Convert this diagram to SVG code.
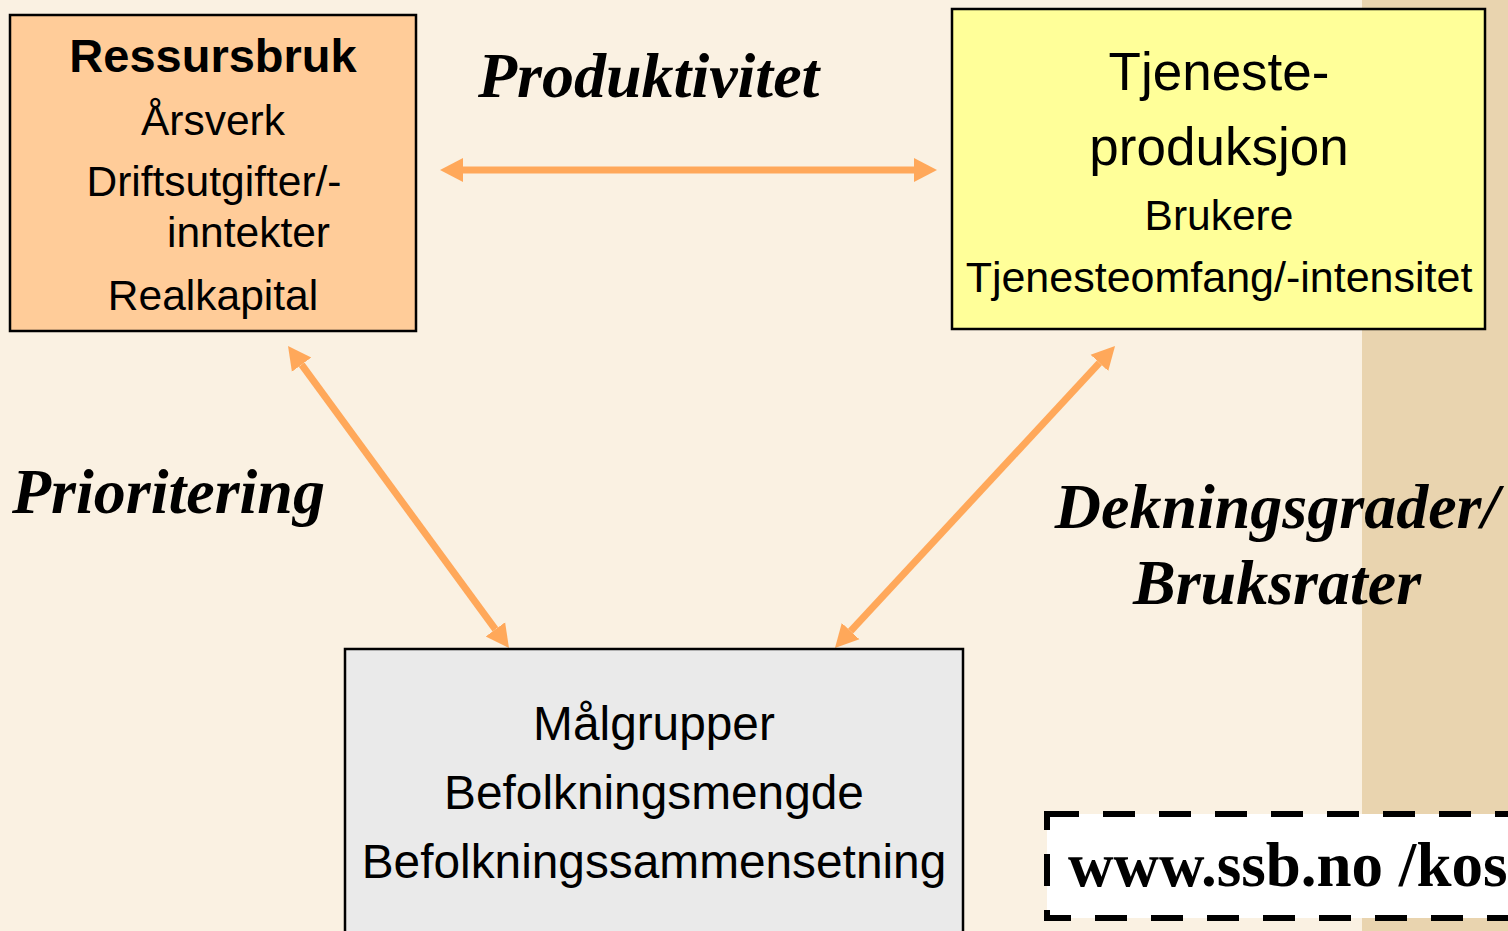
<svg xmlns="http://www.w3.org/2000/svg" width="1508" height="931" viewBox="0 0 1508 931">
<style>
.box{stroke:#000;stroke-width:2.5}
.sans{font-family:"Liberation Sans",Arial,sans-serif;fill:#000}
.lbl{font-family:"Liberation Serif","Times New Roman",serif;font-weight:bold;font-style:italic;font-size:64px;fill:#000}
.arr{stroke:#FFA85A;stroke-width:7;fill:none;marker-start:url(#ah);marker-end:url(#ah)}
</style>
<defs>
<marker id="ah" markerUnits="userSpaceOnUse" markerWidth="24" markerHeight="26" refX="0" refY="12" orient="auto-start-reverse" viewBox="0 0 24 24">
<path d="M0,0 L23,12 L0,24 z" fill="#FFA85A"/>
</marker>
</defs>
<rect x="0" y="0" width="1508" height="931" fill="#FAF1E2"/>
<rect x="1362" y="0" width="146" height="931" fill="#E9D4AF"/>

<g id="connectors">
<line class="arr" x1="463" y1="170" x2="914" y2="170"/>
<line class="arr" x1="301.6" y1="364.6" x2="495.4" y2="629.4"/>
<line class="arr" x1="1099.4" y1="362.9" x2="850.6" y2="631.1"/>
</g>

<g id="ressursbruk">
<rect class="box" x="10" y="15" width="406" height="316" fill="#FFCC99"/>
<text class="sans" x="213" y="72" font-size="47" font-weight="bold" text-anchor="middle">Ressursbruk</text>
<text class="sans" x="213" y="135" font-size="42.5" text-anchor="middle">Årsverk</text>
<text class="sans" x="214" y="196" font-size="42.5" text-anchor="middle">Driftsutgifter/-</text>
<text class="sans" x="167" y="247" font-size="42.5">inntekter</text>
<text class="sans" x="213" y="310" font-size="42.5" text-anchor="middle">Realkapital</text>
</g>

<g id="tjenesteproduksjon">
<rect class="box" x="952" y="9" width="533" height="320" fill="#FFFF99"/>
<text class="sans" x="1219" y="90" font-size="53" text-anchor="middle">Tjeneste-</text>
<text class="sans" x="1219" y="165" font-size="53" text-anchor="middle">produksjon</text>
<text class="sans" x="1219" y="230" font-size="42.5" text-anchor="middle">Brukere</text>
<text class="sans" x="1219" y="292" font-size="43" text-anchor="middle">Tjenesteomfang/-intensitet</text>
</g>

<g id="malgrupper">
<rect class="box" x="345" y="649" width="618" height="300" fill="#EAEAEA"/>
<text class="sans" x="654" y="740" font-size="47.8" text-anchor="middle">Målgrupper</text>
<text class="sans" x="654" y="809" font-size="47.8" text-anchor="middle">Befolkningsmengde</text>
<text class="sans" x="654" y="878" font-size="47.8" text-anchor="middle">Befolkningssammensetning</text>
</g>

<g id="labels">
<text class="lbl" x="478" y="97">Produktivitet</text>
<text class="lbl" x="12" y="513">Prioritering</text>
<text class="lbl" x="1277" y="528" text-anchor="middle">Dekningsgrader/</text>
<text class="lbl" x="1277" y="604" text-anchor="middle">Bruksrater</text>
</g>

<g id="url">
<rect x="1047" y="814" width="520" height="104" fill="#FFFFFF" stroke="#000" stroke-width="6" stroke-dasharray="32 24"/>
<text x="1068" y="886" font-family="'Liberation Serif','Times New Roman',serif" font-weight="bold" font-size="63" fill="#000">www.ssb.no /kos</text>
</g>
</svg>
